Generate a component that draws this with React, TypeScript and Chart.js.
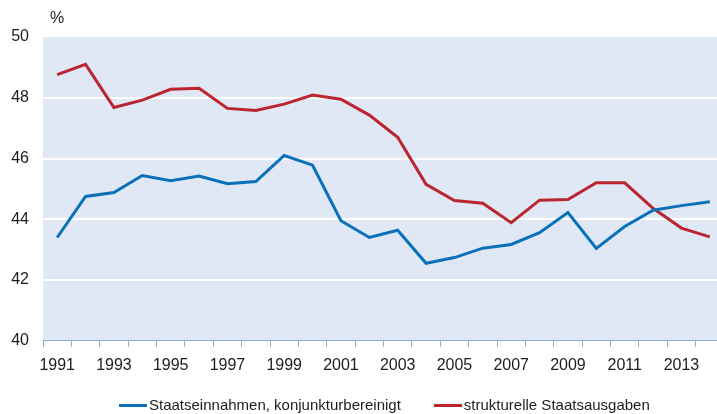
import { useEffect, useRef } from "react";
import { Chart, registerables, type ChartConfiguration, type Plugin } from "chart.js";

Chart.register(...registerables);

const years = [
  "1991", "1992", "1993", "1994", "1995", "1996", "1997", "1998", "1999", "2000", "2001", "2002",
  "2003", "2004", "2005", "2006", "2007", "2008", "2009", "2010", "2011", "2012", "2013", "2014",
];
const einnahmen = [
  43.4, 44.75, 44.88, 45.44, 45.27, 45.42, 45.17, 45.24, 46.1, 45.78, 43.95, 43.4,
  43.64, 42.55, 42.74, 43.05, 43.17, 43.56, 44.22, 43.04, 43.76, 44.3, 44.45, 44.58,
];
const ausgaben = [
  48.76, 49.1, 47.68, 47.92, 48.28, 48.31, 47.65, 47.58, 47.79, 48.09, 47.95, 47.43,
  46.7, 45.15, 44.62, 44.53, 43.89, 44.63, 44.65, 45.2, 45.2, 44.36, 43.71, 43.42,
];
const seriesNames = ["Staatseinnahmen, konjunkturbereinigt", "strukturelle Staatsausgaben"];
const seriesColors = ["#0a71b9", "#bb2530"];
const yUnit = "%";

const FONT = "'Liberation Sans', Arial, sans-serif";
const TEXT = "#1d1d1b";

// light blue plot background + the "%" unit above the y axis
const decor: Plugin<"line"> = {
  id: "decor",
  beforeDraw(chart) {
    const { ctx, chartArea: a } = chart;
    ctx.save();
    ctx.fillStyle = "#e0e8f5";
    ctx.fillRect(a.left, a.top, a.right - a.left, a.bottom - a.top);
    ctx.restore();
  },
  afterDraw(chart) {
    const { ctx, chartArea: a } = chart;
    ctx.save();
    ctx.font = `16px ${FONT}`;
    ctx.fillStyle = TEXT;
    ctx.textAlign = "center";
    ctx.textBaseline = "middle";
    ctx.fillText(yUnit, a.left + 14, a.top - 18);
    ctx.restore();
  },
};

function LineChart() {
  const canvasRef = useRef<HTMLCanvasElement | null>(null);

  useEffect(() => {
    const el = canvasRef.current;
    if (!el) return;

    const cfg: ChartConfiguration<"line"> = {
      type: "line",
      data: {
        labels: years,
        datasets: [einnahmen, ausgaben].map((data, i) => ({
          label: seriesNames[i],
          data,
          borderColor: seriesColors[i],
          backgroundColor: seriesColors[i],
          borderWidth: 3,
          pointRadius: 0,
          tension: 0,
          borderJoinStyle: "miter" as const,
        })),
      },
      options: {
        responsive: false,
        animation: false,
        layout: { padding: { top: 37, bottom: 30, left: 0, right: 0 } },
        plugins: { legend: { display: false }, tooltip: { enabled: false } },
        scales: {
          x: {
            offset: true,
            grid: {
              offset: true,
              drawOnChartArea: false,
              tickLength: 6,
              color: "#8eaad8",
            },
            border: { color: "#8eaad8", width: 1 },
            ticks: {
              autoSkip: false,
              maxRotation: 0,
              padding: 9,
              color: TEXT,
              font: { family: FONT, size: 16 },
              callback: (_v, i) => (i % 2 === 0 ? years[i] : ""),
            },
          },
          y: {
            min: 40,
            max: 50,
            afterFit: (s) => {
              s.width = 43;
            },
            grid: {
              drawTicks: false,
              lineWidth: 2,
              color: (c) => (c.tick.value === 40 || c.tick.value === 50 ? "rgba(0,0,0,0)" : "#ffffff"),
            },
            border: { display: false },
            ticks: {
              stepSize: 2,
              padding: 14,
              color: TEXT,
              font: { family: FONT, size: 16 },
            },
          },
        },
      },
      plugins: [decor],
    };

    const chart = new Chart(el, cfg);
    return () => chart.destroy();
  }, []);

  return <canvas ref={canvasRef} width={724} height={414} style={{ display: "block" }} />;
}

export default function App() {
  return (
    <div
      style={{
        position: "fixed",
        left: 0,
        top: 0,
        width: 717,
        height: 414,
        overflow: "hidden",
        background: "#fff",
        fontFamily: FONT,
      }}
    >
      <LineChart />
      <div
        style={{
          position: "absolute",
          top: 395,
          left: 119,
          display: "flex",
          alignItems: "center",
          fontSize: 15,
          color: TEXT,
          lineHeight: "20px",
          whiteSpace: "nowrap",
        }}
      >
        {seriesNames.map((name, i) => (
          <span key={name} style={{ display: "flex", alignItems: "center", marginRight: i === 0 ? 33 : 0 }}>
            <span style={{ display: "inline-block", width: 28, height: 3, background: seriesColors[i], marginRight: 2 }} />
            {name}
          </span>
        ))}
      </div>
    </div>
  );
}
